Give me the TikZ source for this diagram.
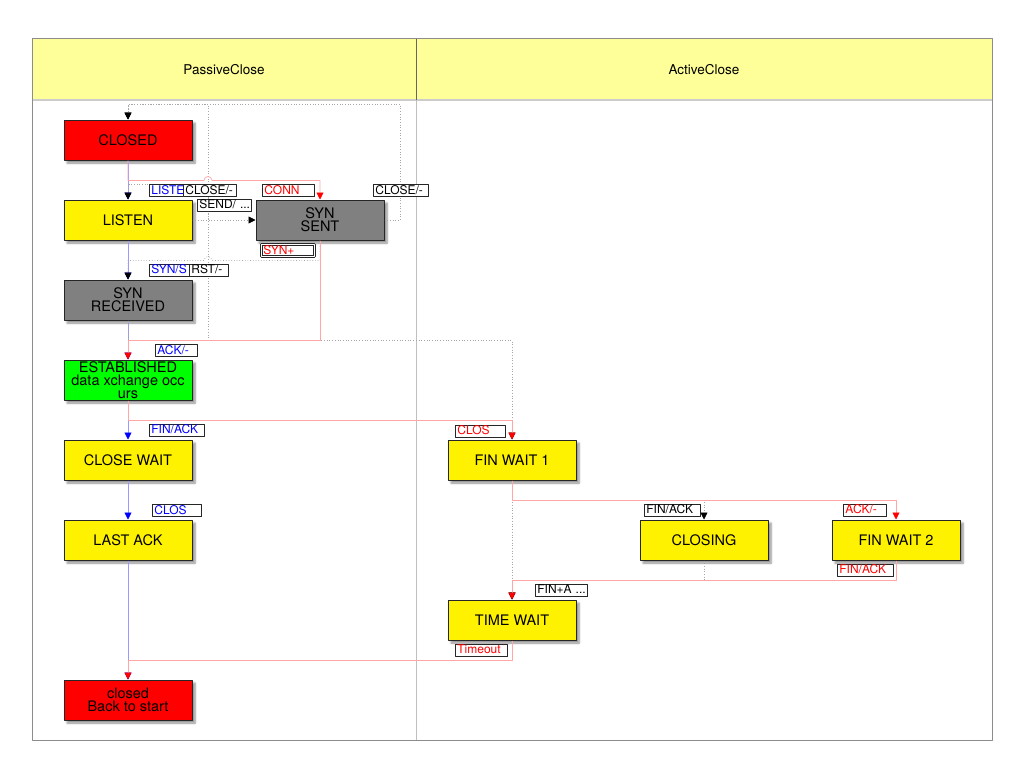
\documentclass[tikz,border=0pt]{standalone}
\usepackage{fontspec}
\setmainfont{TeX Gyre Heros}
\usetikzlibrary{arrows.meta,shadows,shadows.blur}
\definecolor{lanebg}{HTML}{FFFF99}
\definecolor{stategray}{HTML}{808080}
\begin{document}
\begin{tikzpicture}[x=1pt,y=-1pt,line join=round,
	state/.style={draw=black!85,line width=1pt,minimum width=128pt,minimum height=40pt,inner sep=1pt,align=center,
		font=\fontsize{14.5}{13}\selectfont,
		blur shadow={shadow xshift=3pt,shadow yshift=-3pt,shadow blur steps=6,shadow opacity=45}},
	lbl/.style={draw=black!85,fill=white,line width=.8pt,anchor=west,inner xsep=2pt,inner ysep=0pt,
		minimum height=12pt,text height=8.5pt,text depth=1.5pt,align=left,font=\fontsize{12}{12}\selectfont,
		drop shadow={shadow xshift=.8pt,shadow yshift=-.8pt,opacity=.6,fill=black!70}},
	pas/.style={blue!40,line width=.7pt,-{Triangle[width=7pt,length=7pt,color=blue]}},
	act/.style={red!35,line width=.7pt,-{Triangle[width=7pt,length=7pt,color=red]}},
	dot/.style={black!35,dotted,line width=.7pt,-{Triangle[width=7pt,length=7pt,color=black]}}]
	\useasboundingbox (0,0) rectangle (1024,760);
	% lanes
	\fill[lanebg] (32,38) rectangle (992,100);
	\draw[black!20,line width=2pt] (32,100)--(992,100);
	\draw[black!60,line width=.6pt] (416,38)--(416,100);
	\draw[black!25,line width=.6pt] (416,100)--(416,740);
	\draw[black!45,line width=.8pt] (32,38) rectangle (992,740);
	\node[font=\fontsize{13.5}{14}\selectfont] (passive) at (224,70) {PassiveClose};
	\node[font=\fontsize{13.5}{14}\selectfont] (active) at (704,70) {ActiveClose};
	% states
	\node[state,fill=red] (closed) at (128,140) {CLOSED};
	\node[state,fill=yellow] (listen) at (128,220) {LISTEN};
	\node[state,fill=stategray] (synsent) at (320,220) {SYN\\SENT};
	\node[state,fill=stategray] (synrcvd) at (128,300) {SYN\\RECEIVED};
	\node[state,fill=green,inner ysep=0pt] (estab) at (128,380) {ESTABLISHED\\data xchange occ\\urs};
	\node[state,fill=yellow] (closewait) at (128,460) {CLOSE WAIT};
	\node[state,fill=yellow] (lastack) at (128,540) {LAST ACK};
	\node[state,fill=red] (closedend) at (128,700) {closed\\Back to start};
	\node[state,fill=yellow] (finwait1) at (512,460) {FIN WAIT 1};
	\node[state,fill=yellow] (closing) at (704,540) {CLOSING};
	\node[state,fill=yellow] (finwait2) at (896,540) {FIN WAIT 2};
	\node[state,fill=yellow] (timewait) at (512,620) {TIME WAIT};
	% passive side
	\draw[pas] (closed)--(listen);
	\draw[pas] (listen)--(synrcvd);
	\draw[pas] (synrcvd)--(estab);
	\draw[pas] (estab)--(closewait);
	\draw[pas] (closewait)--(lastack);
	\draw[pas] (lastack)--(closedend);
	% other transitions
	\draw[dot] (synsent.east)--++(16,0)|-([yshift=15pt]closed.north)--(closed.north);
	\draw[dot] (listen.east)--++(16,0)|-([yshift=15pt]closed.north)--(closed.north);
	\draw[dot] (listen.east)--(synsent.west);
	\draw[dot] (synrcvd.south)--++(0,20)--++(80,0)|-([yshift=15pt]listen.north)--(listen.north);
	\draw[dot] (synsent.south)--++(0,20)--++(-108,0) arc (0:180:4pt)-|(synrcvd.north);
	\draw[dot] (synrcvd.south)--++(0,20)-|(finwait1.north);
	\draw[dot] (finwait1.south)--++(0,20)-|(closing.north);
	\draw[dot] (closing.south)--++(0,20)-|(timewait.north);
	\draw[dot] (finwait1)--(timewait);
	% active side
	\draw[act] (closed.south)--++(0,20)--++(76,0) arc (180:0:4pt)-|(synsent.north);
	\draw[act] (synsent.south)--++(0,100)-|(estab.north);
	\draw[act] (estab.south)--++(0,20)-|(finwait1.north);
	\draw[act] (finwait1.south)--++(0,20)-|(finwait2.north);
	\draw[act] (finwait2.south)--++(0,20)-|(timewait.north);
	\draw[act] (timewait.south)--++(0,20)-|(closedend.north);
	% labels
	\node[lbl,text=blue,text width=30pt] (tListen) at (149,190.5) {LISTE};
	\node[lbl,text width=49pt] (tCloseL) at (183,190.5) {CLOSE/-};
	\node[lbl,text=red,text width=48pt] (tConn) at (262,190.5) {CONN};
	\node[lbl,text width=51pt] (tCloseS) at (373,190.5) {CLOSE/-};
	\node[lbl,text width=50pt] (tSend) at (197,205) {SEND/~...};
	\node[lbl,text=red,text width=49pt,double,double distance=1pt] (tSynAck) at (261,250.5) {SYN+};
	\node[lbl,text=blue,text width=36pt] (tSynS) at (149,270) {SYN/S};
	\node[lbl,text width=35pt] (tRst) at (189,270) {RST/-};
	\node[lbl,text=blue,text width=38pt] (tAck) at (155,350.5) {ACK/-};
	\node[lbl,text=blue,text width=51pt] (tFinCw) at (149,430) {FIN/ACK};
	\node[lbl,text=red,text width=46pt] (tClosFw) at (455,431) {CLOS};
	\node[lbl,text=blue,text width=45pt] (tClosLa) at (152,510.5) {CLOS};
	\node[lbl,text width=52pt] (tFinCl) at (644,510) {FIN/ACK};
	\node[lbl,text=red,text width=39pt] (tAckFw) at (843,510) {ACK/-};
	\node[lbl,text=red,text width=52pt] (tFinFw) at (837,570) {FIN/ACK};
	\node[lbl,text width=48pt] (tFinA) at (535,590) {FIN+A~...};
	\node[lbl,text=red,text width=48pt] (tTimeout) at (455,650) {Timeout};
\end{tikzpicture}
\end{document}
